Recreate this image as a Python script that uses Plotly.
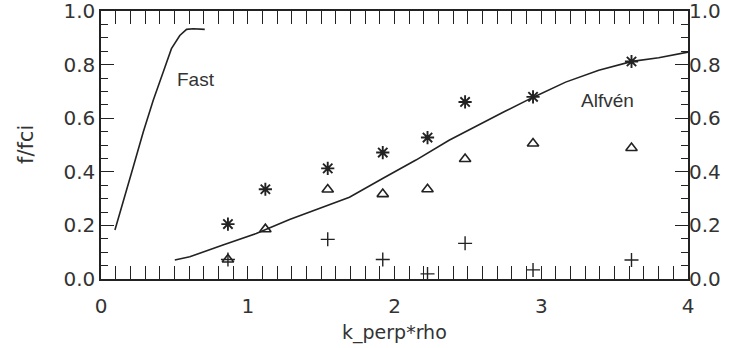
import plotly.graph_objects as go

# Measured points (k_perp*rho, f/fci)
k_star = [0.865, 1.12, 1.545, 1.92, 2.225, 2.481, 2.944, 3.615]
f_star = [0.205, 0.335, 0.413, 0.472, 0.528, 0.661, 0.680, 0.812]

k_tri = [0.865, 1.12, 1.545, 1.92, 2.225, 2.481, 2.944, 3.615]
f_tri = [0.073, 0.186, 0.334, 0.317, 0.335, 0.448, 0.506, 0.489]

k_plus = [0.865, 1.545, 1.92, 2.225, 2.481, 2.944, 3.615]
f_plus = [0.073, 0.148, 0.073, 0.019, 0.133, 0.034, 0.071]

# Fast-mode dispersion curve
k_fast = [0.095, 0.152, 0.22, 0.288, 0.356, 0.424, 0.48, 0.537, 0.583, 0.628, 0.707]
f_fast = [0.183, 0.288, 0.419, 0.549, 0.667, 0.773, 0.860, 0.909, 0.932, 0.934, 0.932]

# Alfven-mode dispersion curve
k_alf = [0.503, 0.605, 0.831, 1.058, 1.285, 1.511, 1.693, 1.919, 2.146, 2.372,
         2.599, 2.75, 2.939, 3.166, 3.392, 3.619, 3.80, 4.0]
f_alf = [0.071, 0.083, 0.127, 0.170, 0.222, 0.267, 0.305, 0.375, 0.444, 0.518,
         0.583, 0.625, 0.677, 0.735, 0.779, 0.8125, 0.826, 0.847]

x_range = [0, 4]
y_range = [0, 1.0005]
x_ticks = [0, 1, 2, 3, 4]
y_ticks = [0.0, 0.2, 0.4, 0.6, 0.8, 1.0]
y_ticklabels = ["0.0", "0.2", "0.4", "0.6", "0.8", "1.0"]

INK = "#222222"
TXT = "#333333"
TICKFONT = dict(family="DejaVu Sans", size=20, color=TXT)

fig = go.Figure()
fig.add_trace(go.Scatter(x=k_fast, y=f_fast, mode="lines",
                         line=dict(color=INK, width=1.6), hoverinfo="skip"))
fig.add_trace(go.Scatter(x=k_alf, y=f_alf, mode="lines",
                         line=dict(color=INK, width=1.6), hoverinfo="skip"))
fig.add_trace(go.Scatter(x=k_tri, y=f_tri, mode="markers",
                         marker=dict(symbol="triangle-up-open", size=10, color=INK,
                                     line=dict(color=INK, width=1.6))))
fig.add_trace(go.Scatter(x=k_plus, y=f_plus, mode="markers",
                         marker=dict(symbol="cross-thin-open", size=10, color=INK,
                                     line=dict(color=INK, width=1.4))))
fig.add_trace(go.Scatter(x=k_star, y=f_star, mode="markers",
                         marker=dict(symbol="asterisk-open", size=11, color=INK,
                                     line=dict(color=INK, width=1.9))))
# invisible trace to instantiate the right-hand label axis
fig.add_trace(go.Scatter(x=k_alf, y=f_alf, mode="lines", yaxis="y2",
                         line=dict(width=0), opacity=0, hoverinfo="skip"))

fig.update_layout(
    template="none",
    width=734, height=348,
    margin=dict(l=101, r=46, t=11, b=69, autoexpand=False),
    paper_bgcolor="white", plot_bgcolor="white",
    showlegend=False,
    xaxis=dict(range=x_range, automargin=False, showgrid=False, zeroline=False,
               showline=True, mirror="allticks", linecolor=INK, linewidth=1.5,
               ticks="inside", ticklen=13, tickwidth=1.3, tickcolor=INK,
               tickmode="array", tickvals=x_ticks,
               ticktext=[str(v) for v in x_ticks], tickfont=TICKFONT,
               ticklabelstandoff=8,
               minor=dict(dtick=0.1, tick0=0, ticks="inside", ticklen=7,
                          tickwidth=1.3, tickcolor=INK, showgrid=False)),
    yaxis=dict(range=y_range, automargin=False, showgrid=False, zeroline=False,
               showline=True, mirror="allticks", linecolor=INK, linewidth=1.5,
               ticks="inside", ticklen=13, tickwidth=1.3, tickcolor=INK,
               tickmode="array", tickvals=y_ticks, ticktext=y_ticklabels,
               tickfont=TICKFONT, ticklabeloverflow="allow",
               minor=dict(dtick=0.05, tick0=0, ticks="inside", ticklen=7,
                          tickwidth=1.3, tickcolor=INK, showgrid=False)),
    yaxis2=dict(range=y_range, overlaying="y", side="right", matches="y",
                automargin=False, showgrid=False, zeroline=False, showline=False,
                ticks="", tickmode="array", tickvals=y_ticks,
                ticktext=y_ticklabels, tickfont=TICKFONT,
                ticklabeloverflow="allow"),
    annotations=[
        dict(text="Fast", x=0.646, y=0.745, xref="x", yref="y", showarrow=False,
             font=dict(family="Liberation Sans", size=19, color=TXT)),
        dict(text="Alfvén", x=3.451, y=0.665, xref="x", yref="y", showarrow=False,
             font=dict(family="Liberation Sans", size=19, color=TXT)),
        dict(text="k_perp*rho", x=0.5, y=0, xref="paper", yref="paper",
             yshift=-53, yanchor="middle", showarrow=False,
             font=dict(family="DejaVu Sans", size=19, color=TXT)),
        dict(text="f/fci", x=0, y=0.5, xref="paper", yref="paper",
             xshift=-75, xanchor="center", textangle=-90, showarrow=False,
             font=dict(family="DejaVu Sans", size=21, color=TXT)),
    ],
)

fig.write_html("out.html",
               config={"displayModeBar": False},
               post_script="document.body.style.margin='0';")
